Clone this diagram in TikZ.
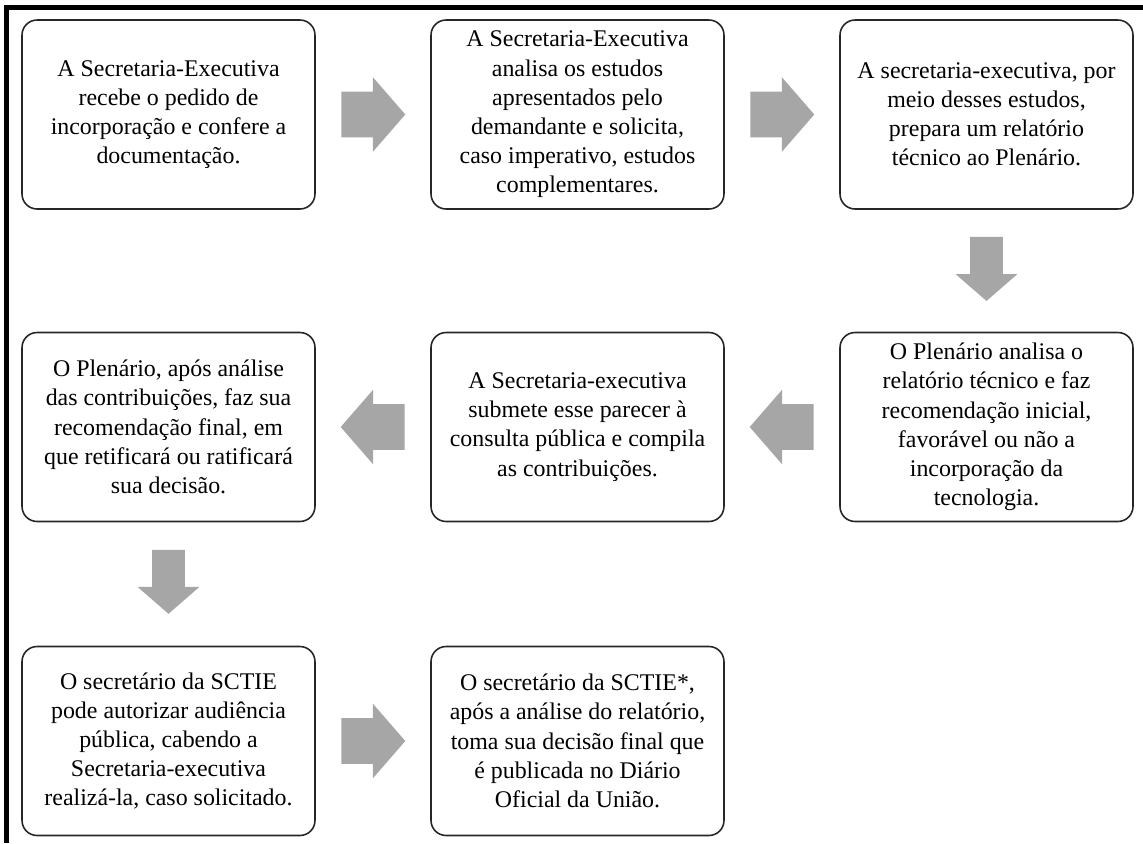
\documentclass[tikz,border=0pt]{standalone}
\usepackage{fontspec}
\setmainfont{Liberation Serif}
\usetikzlibrary{shapes.arrows,calc}
\definecolor{arrowgray}{RGB}{166,166,166}

\begin{document}
\begin{tikzpicture}[x=0.02cm, y=-0.02cm,
  stage/.style={rectangle, rounded corners=0.3cm, draw=black!85, line width=0.9pt,
    minimum width=5.86cm, minimum height=3.78cm, align=center,
    font=\fontsize{13.6}{16.6}\selectfont},
  flow/.style={single arrow, fill=arrowgray, draw=none, anchor=tail,
    inner xsep=0.32cm, inner ysep=0.45cm, minimum height=1.28cm,
    single arrow head extend=0.29cm, single arrow tip angle=98},
  frame/.style={line width=0.1cm},
]
\useasboundingbox (0,0) rectangle (1143,843);

% Frame
\draw[frame] (1143,7.5) -- (6.5,7.5) -- (6.5,843);

% Row 1
\node[stage] (b1) at (168.5, 114.5) {A Secretaria-Executiva\\recebe o pedido de\\incorporação e confere a\\documentação.};
\node[stage] (b2) at (577.5, 114.5) {A Secretaria-Executiva\\analisa os estudos\\apresentados pelo\\demandante e solicita,\\caso imperativo, estudos\\complementares.};
\node[stage] (b3) at (986.5, 114.5) {A secretaria-executiva, por\\meio desses estudos,\\prepara um relatório\\técnico ao Plenário.};

% Row 2
\node[stage] (b4) at (986.5, 427) {O Plenário analisa o\\relatório técnico e faz\\recomendação inicial,\\favorável ou não a\\incorporação da\\tecnologia.};
\node[stage] (b5) at (577.5, 427) {A Secretaria-executiva\\submete esse parecer à\\consulta pública e compila\\as contribuições.};
\node[stage] (b6) at (168.5, 427) {O Plenário, após análise\\das contribuições, faz sua\\recomendação final, em\\que retificará ou ratificará\\sua decisão.};

% Row 3
\node[stage] (b7) at (168.5, 741) {O secretário da SCTIE\\pode autorizar audiência\\pública, cabendo a\\Secretaria-executiva\\realizá-la, caso solicitado.};
\node[stage] (b8) at (577.5, 741) {O secretário da SCTIE*,\\após a análise do relatório,\\toma sua decisão final que\\é publicada no Diário\\Oficial da União.};

% Block arrows
\node[flow] (a12) at ($(b1.east)!0.22!(b2.west)$) {};
\node[flow] (a23) at ($(b2.east)!0.22!(b3.west)$) {};
\node[flow, shape border rotate=270] (a34) at ($(b3.south)!0.22!(b4.north)$) {};
\node[flow, shape border rotate=180] (a45) at ($(b4.west)!0.22!(b5.east)$) {};
\node[flow, shape border rotate=180] (a56) at ($(b5.west)!0.22!(b6.east)$) {};
\node[flow, shape border rotate=270] (a67) at ($(b6.south)!0.22!(b7.north)$) {};
\node[flow] (a78) at ($(b7.east)!0.22!(b8.west)$) {};

\end{tikzpicture}
\end{document}
